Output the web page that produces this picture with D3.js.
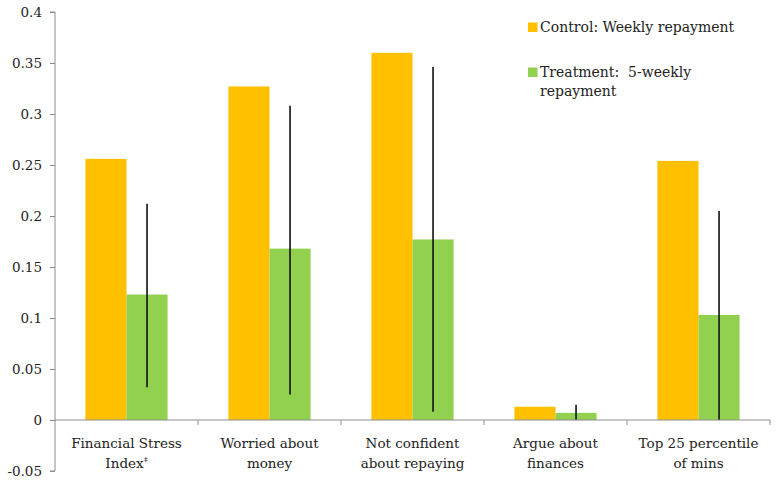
<!DOCTYPE html>
<html><head><meta charset="utf-8">
<script src="https://cdn.jsdelivr.net/npm/d3@7"></script>
<style>body{margin:0;background:#fff}</style>
</head><body><svg id="c" width="776" height="481"></svg>
<script>
const categories = ["Financial Stress|Index‡", "Worried about|money", "Not confident|about repaying", "Argue about|finances", "Top 25 percentile|of mins"];
const seriesNames = ["Control: Weekly repayment", "Treatment:  5-weekly|repayment"];
const controlValues = [0.256, 0.327, 0.360, 0.013, 0.254];
const treatmentValues = [0.123, 0.168, 0.177, 0.007, 0.103];
const ciLower = [0.032, 0.025, 0.008, 0.0, 0.0];
const ciUpper = [0.212, 0.308, 0.346, 0.015, 0.205];
const yTicks = [-0.05, 0, 0.05, 0.1, 0.15, 0.2, 0.25, 0.3, 0.35, 0.4];
const colors = ["#FFC000", "#92D050"];
const FONT = "'DejaVu Serif', 'Liberation Serif', serif";

const svg = d3.select("#c");
const y = d3.scaleLinear().domain([-0.05, 0.4]).range([471, 12]);
const x = d3.scaleBand().domain(categories).range([55, 770]).paddingInner(0).paddingOuter(0);
const xs = d3.scaleBand().domain([0, 1]).range([0, x.bandwidth()]).paddingInner(0).paddingOuter(0.74);
const axisCol = "#8c8c8c";

// y axis
const ya = svg.append("g").attr("transform", "translate(55,0)")
  .call(d3.axisLeft(y).tickValues(yTicks).tickSize(5).tickPadding(8)
    .tickFormat(d => d === 0 ? "0" : String(+d.toFixed(2))));
ya.attr("font-family", FONT);
ya.select(".domain").attr("stroke", axisCol).attr("d", `M-5,${y(0.4)}H0V${y(-0.05)}H-5`);
ya.selectAll(".tick line").attr("stroke", axisCol);
ya.selectAll(".tick text").attr("font-size", 13.5).attr("fill", "#222").attr("font-family", FONT);

// bars
const data = categories.map((c, i) => ({c, v: [controlValues[i], treatmentValues[i]], lo: ciLower[i], hi: ciUpper[i]}));
const g = svg.append("g");
data.forEach(d => {
  d.v.forEach((v, s) => {
    g.append("rect").attr("x", x(d.c) + xs(s)).attr("width", xs.bandwidth())
      .attr("y", y(Math.max(0, v))).attr("height", Math.abs(y(v) - y(0)))
      .attr("fill", colors[s]);
  });
});

// x axis
const xa = svg.append("g").attr("transform", `translate(0,${y(0)})`);
xa.append("line").attr("x1", 55).attr("x2", 770).attr("stroke", axisCol);
const bounds = categories.map(c => x(c)).concat([x(categories[categories.length-1]) + x.bandwidth()]);
bounds.slice(1).forEach(b => xa.append("line").attr("x1", b).attr("x2", b).attr("y1", 0).attr("y2", 5).attr("stroke", axisCol));
categories.forEach(c => {
  const lines = c.split("|");
  const t = xa.append("text").attr("text-anchor", "middle").attr("font-size", 13.5).attr("font-family", FONT).attr("fill", "#222");
  lines.forEach((l, k) => {
    const ts = t.append("tspan").attr("x", x(c) + x.bandwidth()/2).attr("y", 28 + k*19.5);
    if (l.endsWith("‡")) {
      ts.text(l.slice(0, -1));
      t.append("tspan").attr("font-size", 8).attr("dy", -6).text("‡");
    } else ts.text(l);
  });
});

// error lines
data.forEach(d => {
  const cx = x(d.c) + xs(1) + xs.bandwidth()/2;
  g.append("line").attr("x1", cx).attr("x2", cx).attr("y1", y(d.hi)).attr("y2", y(d.lo))
    .attr("stroke", "#111").attr("stroke-width", 1.6);
});

// legend
const lg = svg.append("g");
[[0, 32], [1, 77]].forEach(([s, by]) => {
  lg.append("rect").attr("x", 528).attr("y", by - 9.5).attr("width", 9.5).attr("height", 9.5).attr("fill", colors[s]);
  const t = lg.append("text").attr("font-size", 14).attr("font-family", FONT).attr("fill", "#222");
  seriesNames[s].split("|").forEach((l, k) => t.append("tspan").attr("x", 540).attr("y", by + k*18.5).style("white-space","pre").text(l));
});
</script></body></html>
